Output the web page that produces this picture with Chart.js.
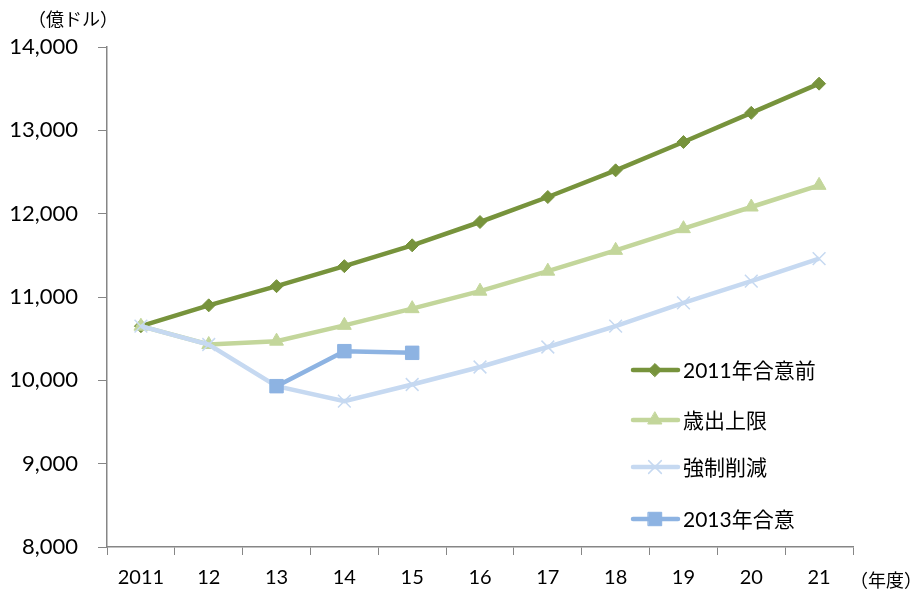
<!DOCTYPE html>
<html>
<head>
<meta charset="utf-8">
<script src="https://cdn.jsdelivr.net/npm/chart.js@4"></script>
<style>
  html, body { margin: 0; padding: 0; background: #fff; }
  #wrap { width: 916px; height: 592px; position: relative; }
</style>
</head>
<body>
<div id="wrap"><canvas id="c" width="916" height="592"></canvas></div>
<script>
// 年度
const years = ['2011', '12', '13', '14', '15', '16', '17', '18', '19', '20', '21'];
// 系列（億ドル）
const before2011 = [10650, 10900, 11130, 11370, 11620, 11900, 12200, 12520, 12860, 13210, 13560];
const capLimit   = [10650, 10430, 10470, 10660, 10860, 11070, 11310, 11560, 11820, 12080, 12340];
const sequester  = [10650, 10430, 9930, 9750, 9950, 10160, 10400, 10650, 10930, 11190, 11460];
const deal2013   = [null, null, 9930, 10350, 10330, null, null, null, null, null, null];
const yTicks = [8000, 9000, 10000, 11000, 12000, 13000, 14000];

const FONT_NUM = "Lato, 'Noto Sans CJK JP', sans-serif";
const FONT_JP = "'Noto Sans CJK JP', sans-serif";
const AXIS = '#868686';

const series = [
  { label: '2011年合意前', data: before2011, color: '#77933C', style: 'rectRot', r: 6.5, bw: 1 },
  { label: '歳出上限', data: capLimit, color: '#C3D69B', style: 'triangle', r: 8, bw: 1 },
  { label: '強制削減', data: sequester, color: '#C6D9F1', style: 'crossRot', r: 9, bw: 1.5 },
  { label: '2013年合意', data: deal2013, color: '#8DB3E2', style: 'rect', r: 9.5, bw: 1 },
];

// 凡例とラベル（プロット内に描く）
const extras = {
  id: 'extras',
  afterDraw(chart) {
    const ctx = chart.ctx;
    ctx.save();
    // 単位
    ctx.fillStyle = '#000';
    ctx.font = "18px " + FONT_JP;
    ctx.textBaseline = 'middle';
    ctx.textAlign = 'left';
    ctx.fillText('（億ドル）', 28, 19);
    ctx.fillText('（年度）', 850, 580);
    // 凡例
    const rows = [370, 420, 467, 519];
    series.forEach((s, i) => {
      const y = rows[i];
      ctx.strokeStyle = s.color;
      ctx.lineWidth = 4.5;
      ctx.lineCap = 'round';
      ctx.beginPath();
      ctx.moveTo(633, y);
      ctx.lineTo(678, y);
      ctx.stroke();
      ctx.fillStyle = s.color;
      ctx.lineWidth = s.bw;
      Chart.helpers.drawPoint(ctx, { pointStyle: s.style, radius: s.r, rotation: 0, borderWidth: s.bw }, 655, y);
      ctx.fillStyle = '#000';
      ctx.font = "21px " + FONT_NUM;
      ctx.fillText(s.label, 683, y + 1);
    });
    ctx.restore();
  }
};

new Chart(document.getElementById('c'), {
  type: 'line',
  data: {
    labels: years,
    datasets: series.map(s => ({
      label: s.label,
      data: s.data,
      borderColor: s.color,
      backgroundColor: s.color,
      borderWidth: 4.5,
      tension: 0,
      pointStyle: s.style,
      pointRadius: s.r,
      pointBorderWidth: s.bw,
      pointBorderColor: s.color,
      pointBackgroundColor: s.color,
      spanGaps: false,
    })).reverse()
  },
  options: {
    responsive: false,
    animation: false,
    layout: { padding: { top: 47, right: 63, left: 0, bottom: 0 } },
    plugins: { legend: { display: false }, tooltip: { enabled: false } },
    scales: {
      x: {
        offset: true,
        grid: { drawOnChartArea: false, drawTicks: true, tickLength: 8, color: AXIS, offset: true },
        border: { display: true, color: AXIS, width: 1.5 },
        ticks: { color: '#000', font: { family: FONT_NUM, size: 20 }, padding: 11, maxRotation: 0 },
        afterFit: s => { s.height = 45; }
      },
      y: {
        min: 8000, max: 14000,
        afterBuildTicks: s => { s.ticks = yTicks.map(v => ({ value: v })); },
        grid: { drawOnChartArea: false, drawTicks: true, tickLength: 9, color: AXIS },
        border: { display: true, color: AXIS, width: 1.5 },
        ticks: {
          color: '#000', font: { family: FONT_NUM, size: 22 }, padding: 20,
          callback: v => v.toLocaleString('en-US')
        },
        afterFit: s => { s.width = 107; }
      }
    }
  },
  plugins: [extras]
});
</script>
</body>
</html>
